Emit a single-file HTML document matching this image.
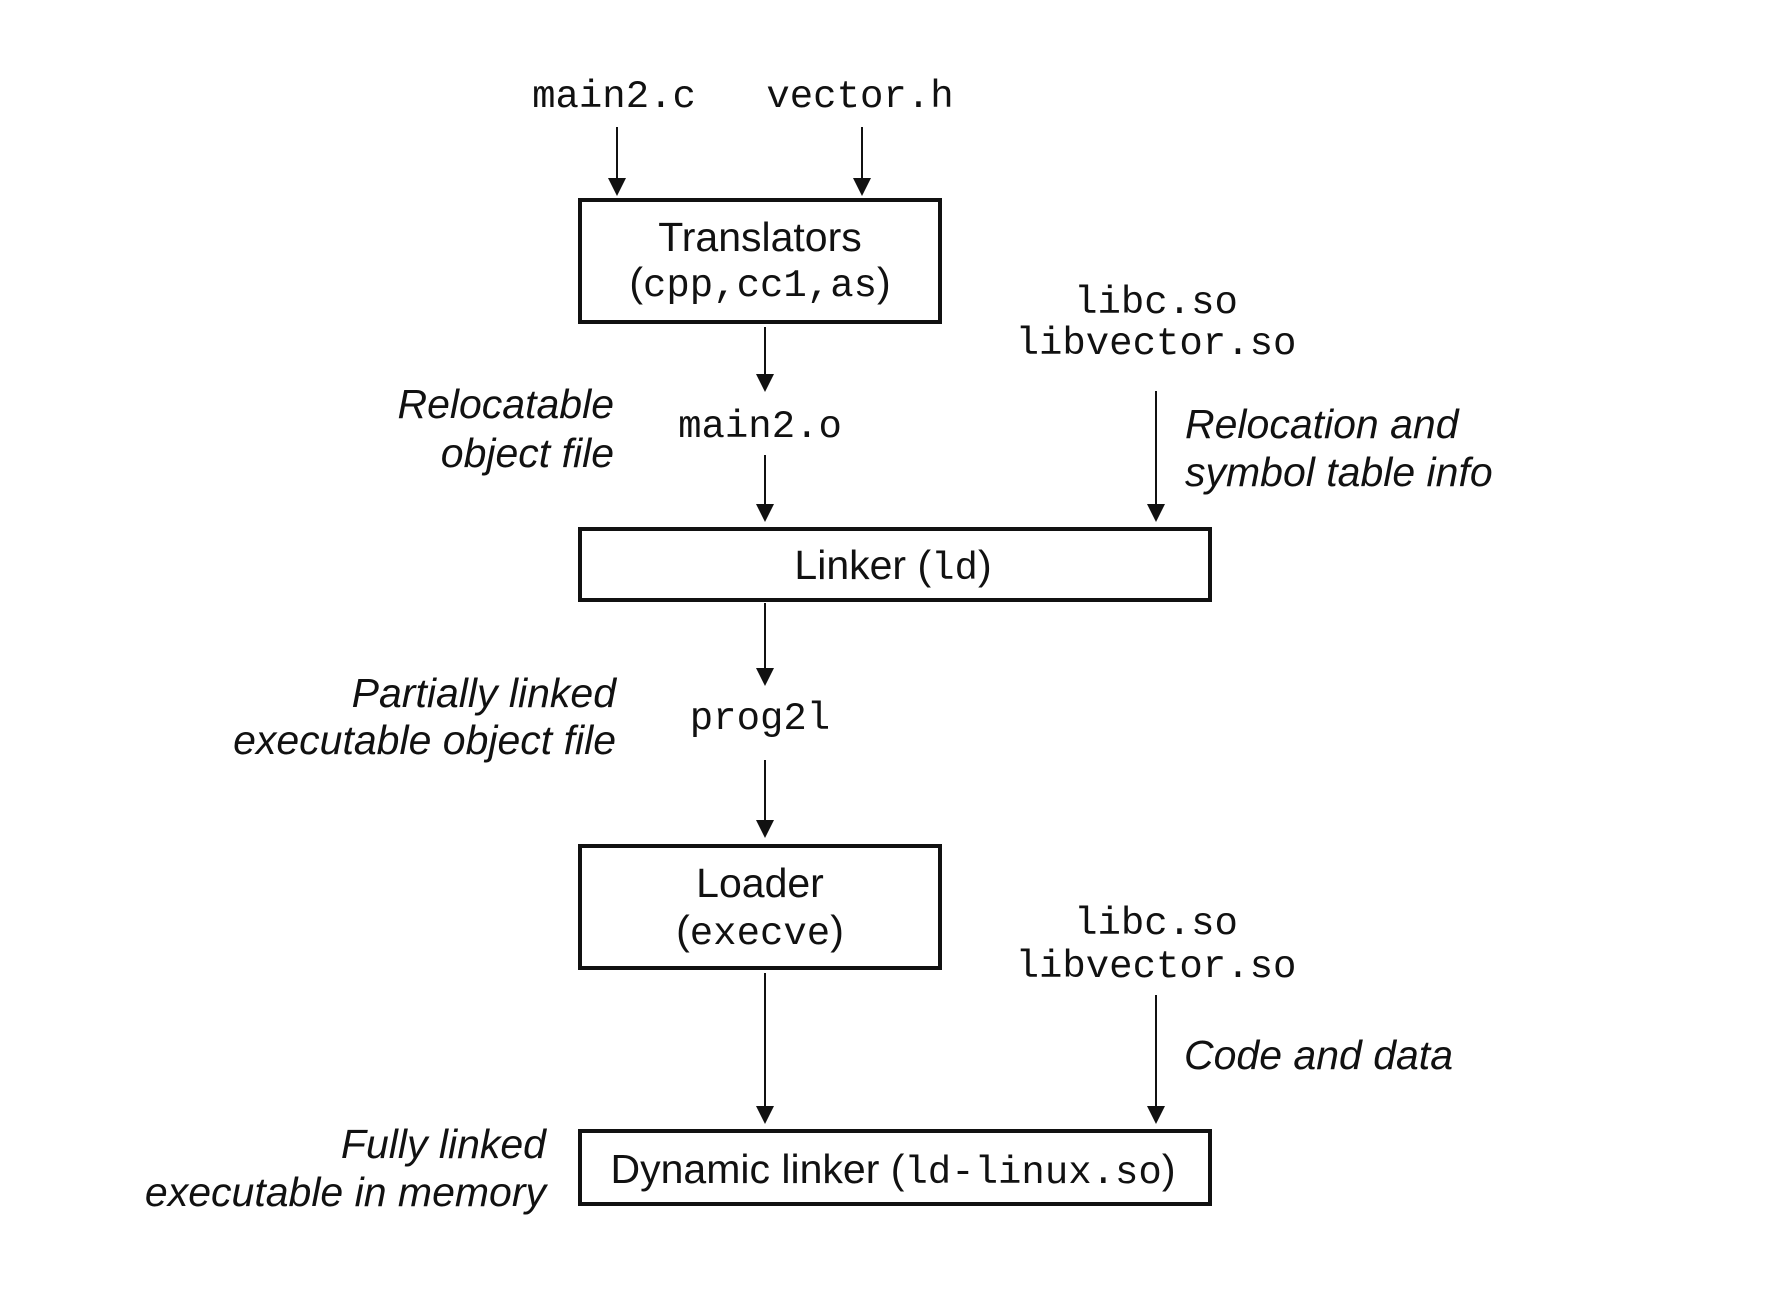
<!DOCTYPE html>
<html><head><meta charset="utf-8"><style>
html,body{margin:0;padding:0;background:#fff;}
svg{display:block;}
.m{font-family:"Liberation Mono",monospace;font-size:39px;fill:#111;}
.s{font-family:"Liberation Sans",sans-serif;font-size:41px;fill:#111;}
.i{font-family:"Liberation Sans",sans-serif;font-size:41px;font-style:italic;fill:#111;}
</style></head><body>
<svg width="1774" height="1304" viewBox="0 0 1774 1304" xmlns="http://www.w3.org/2000/svg">
<defs><marker id="a" markerWidth="18" markerHeight="17" refX="9" refY="17" orient="auto" markerUnits="userSpaceOnUse"><path d="M0,0 L18,0 L9,17 Z" fill="#111" transform="rotate(-90 9 8.5) translate(0,0)"/></marker></defs>
<g stroke="#111" stroke-width="2" fill="#111">
<line x1="617" y1="127" x2="617" y2="180"/><path d="M608,178 L626,178 L617,196 Z" stroke="none"/>
<line x1="862" y1="127" x2="862" y2="180"/><path d="M853,178 L871,178 L862,196 Z" stroke="none"/>
<line x1="765" y1="327" x2="765" y2="376"/><path d="M756,374 L774,374 L765,392 Z" stroke="none"/>
<line x1="765" y1="455" x2="765" y2="506"/><path d="M756,504 L774,504 L765,522 Z" stroke="none"/>
<line x1="1156" y1="391" x2="1156" y2="506"/><path d="M1147,504 L1165,504 L1156,522 Z" stroke="none"/>
<line x1="765" y1="603" x2="765" y2="670"/><path d="M756,668 L774,668 L765,686 Z" stroke="none"/>
<line x1="765" y1="760" x2="765" y2="822"/><path d="M756,820 L774,820 L765,838 Z" stroke="none"/>
<line x1="765" y1="973" x2="765" y2="1108"/><path d="M756,1106 L774,1106 L765,1124 Z" stroke="none"/>
<line x1="1156" y1="995" x2="1156" y2="1108"/><path d="M1147,1106 L1165,1106 L1156,1124 Z" stroke="none"/>
</g>
<g fill="none" stroke="#111" stroke-width="4">
<rect x="580" y="200" width="360" height="122"/>
<rect x="580" y="529" width="630" height="71"/>
<rect x="580" y="846" width="360" height="122"/>
<rect x="580" y="1131" width="630" height="73"/>
</g>
<text class="m" x="614" y="107" text-anchor="middle">main2.c</text>
<text class="m" x="860" y="107" text-anchor="middle">vector.h</text>
<text class="s" x="760" y="251" text-anchor="middle">Translators</text>
<text class="s" x="760" y="296" text-anchor="middle">(<tspan class="m">cpp,cc1,as</tspan>)</text>
<text class="m" x="1156" y="313" text-anchor="middle">libc.so</text>
<text class="m" x="1156" y="354" text-anchor="middle">libvector.so</text>
<text class="i" x="614" y="418" text-anchor="end">Relocatable</text>
<text class="i" x="614" y="467" text-anchor="end">object file</text>
<text class="m" x="760" y="437" text-anchor="middle">main2.o</text>
<text class="i" x="1185" y="438">Relocation and</text>
<text class="i" x="1185" y="486">symbol table info</text>
<text class="s" x="893" y="579" text-anchor="middle">Linker (<tspan class="m">ld</tspan>)</text>
<text class="i" x="616" y="707" text-anchor="end">Partially linked</text>
<text class="i" x="616" y="754" text-anchor="end">executable object file</text>
<text class="m" x="760" y="729" text-anchor="middle">prog2l</text>
<text class="s" x="760" y="897" text-anchor="middle">Loader</text>
<text class="s" x="760" y="944" text-anchor="middle">(<tspan class="m">execve</tspan>)</text>
<text class="m" x="1156" y="934" text-anchor="middle">libc.so</text>
<text class="m" x="1156" y="977" text-anchor="middle">libvector.so</text>
<text class="i" x="1184" y="1069">Code and data</text>
<text class="s" x="893" y="1183" text-anchor="middle">Dynamic linker (<tspan class="m">ld-linux.so</tspan>)</text>
<text class="i" x="546" y="1158" text-anchor="end">Fully linked</text>
<text class="i" x="546" y="1206" text-anchor="end">executable in memory</text>
</svg>
</body></html>
